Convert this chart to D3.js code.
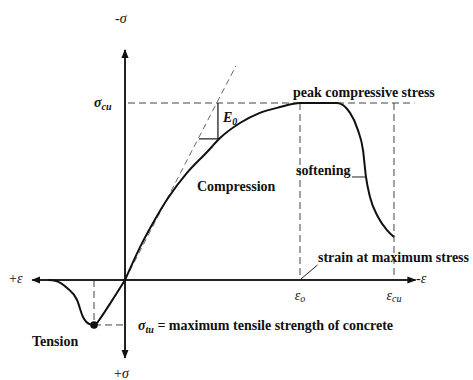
<!DOCTYPE html>
<html>
<head>
<meta charset="utf-8">
<script src="https://cdn.jsdelivr.net/npm/d3@7"></script>
<style>
  body { margin: 0; background: #fff; }
</style>
</head>
<body>
<div id="chart"></div>
<script>
// normalised strain (eps / eps0) and stress (sigma / sigma_cu)
var compStrain = [0, 0.086, 0.16, 0.246, 0.354, 0.469, 0.543, 0.657, 0.771, 0.886, 1, 1.211, 1.286, 1.331, 1.36, 1.377, 1.4, 1.446, 1.497, 1.537];
var compStress = [0, 0.186, 0.322, 0.463, 0.605, 0.723, 0.802, 0.887, 0.944, 0.977, 1, 1, 0.944, 0.847, 0.734, 0.582, 0.469, 0.356, 0.282, 0.243];

var tensStrain = [-0.44, -0.4, -0.331, -0.274, -0.24, -0.2, -0.177, -0.165, -0.14, -0.08, 0];
var tensStress = [0, -0.004, -0.045, -0.113, -0.209, -0.25, -0.254, -0.248, -0.215, -0.125, 0];

var peakTension = [-0.177, -0.254];   // sigma_tu
var strainMarks = [1, 1.537];         // eps_o, eps_cu
var tangentEnd = [0.634, 1.21];       // initial modulus line
var slopeTri = [0.423, 0.531, 0.797]; // E0 triangle: x0, x1, lower y
var xExtent = [-0.53, 1.66];
var yExtent = [-0.44, 1.3];

var svgWidth = 473, svgHeight = 380;

var svg = d3.select("#chart")
  .append("svg")
  .attr("width", svgWidth)
  .attr("height", svgHeight)
  .attr("font-family", "'Liberation Serif', 'DejaVu Serif', Times, serif")
  .attr("font-weight", "bold")
  .attr("fill", "#111");

var x = d3.scaleLinear().domain([0, 1]).range([125, 300]);
var y = d3.scaleLinear().domain([0, 1]).range([280, 103]);

// arrow marker
var defs = svg.append("defs");
defs.append("marker")
  .attr("id", "arrow")
  .attr("viewBox", "0 0 10 10")
  .attr("refX", 9)
  .attr("refY", 5)
  .attr("markerWidth", 4.5)
  .attr("markerHeight", 4.5)
  .attr("orient", "auto")
  .append("path")
  .attr("d", "M0,1 L10,5 L0,9 Z")
  .attr("fill", "#111");

var dash = "7,4";

// dashed guides
var guides = svg.append("g")
  .attr("stroke", "#444")
  .attr("stroke-width", 1)
  .attr("stroke-dasharray", dash)
  .attr("fill", "none");

guides.append("line")
  .attr("x1", x(0) + 3).attr("x2", x(xExtent[1]) - 1)
  .attr("y1", y(1)).attr("y2", y(1));

strainMarks.forEach(function(s) {
  guides.append("line")
    .attr("x1", x(s)).attr("x2", x(s))
    .attr("y1", y(1)).attr("y2", y(0));
});

guides.append("line")
  .attr("x1", x(peakTension[0])).attr("x2", x(peakTension[0]))
  .attr("y1", y(0)).attr("y2", y(peakTension[1]));
guides.append("line")
  .attr("x1", x(peakTension[0])).attr("x2", x(0))
  .attr("y1", y(peakTension[1])).attr("y2", y(peakTension[1]));

// tangent line (initial modulus)
svg.append("line")
  .attr("x1", x(0)).attr("y1", y(0))
  .attr("x2", x(tangentEnd[0])).attr("y2", y(tangentEnd[1]))
  .attr("stroke", "#555")
  .attr("stroke-width", 0.9)
  .attr("stroke-dasharray", "6,4");

// E0 triangle
svg.append("path")
  .attr("d", "M" + x(slopeTri[0]) + "," + y(slopeTri[2]) +
             "L" + x(slopeTri[1]) + "," + y(slopeTri[2]) +
             "L" + x(slopeTri[1]) + "," + y(1))
  .attr("fill", "none")
  .attr("stroke", "#222")
  .attr("stroke-width", 1.3);

// axes
function axisLine(x1, y1, x2, y2) {
  svg.append("line")
    .attr("x1", x1).attr("y1", y1)
    .attr("x2", x2).attr("y2", y2)
    .attr("stroke", "#222").attr("stroke-width", 2)
    .attr("marker-end", "url(#arrow)");
}
axisLine(x(0), y(0), x(0), y(yExtent[1]));
axisLine(x(0), y(0), x(0), y(yExtent[0]));
axisLine(x(0), y(0), x(xExtent[1]), y(0));
axisLine(x(0), y(0), x(xExtent[0]), y(0));

// curves
var line = d3.line()
  .x(function(d) { return x(d[0]); })
  .y(function(d) { return y(d[1]); })
  .curve(d3.curveMonotoneX);

svg.append("path")
  .datum(d3.zip(compStrain, compStress))
  .attr("d", line)
  .attr("fill", "none")
  .attr("stroke", "#111")
  .attr("stroke-width", 2);

svg.append("path")
  .datum(d3.zip(tensStrain, tensStress))
  .attr("d", line)
  .attr("fill", "none")
  .attr("stroke", "#111")
  .attr("stroke-width", 2);

svg.append("circle")
  .attr("cx", x(peakTension[0]))
  .attr("cy", y(peakTension[1]))
  .attr("r", 3.8)
  .attr("fill", "#111");

// leader lines
svg.append("line")
  .attr("x1", 352).attr("x2", x(1.377))
  .attr("y1", y(0.582)).attr("y2", y(0.582))
  .attr("stroke", "#222").attr("stroke-width", 1);
svg.append("line")
  .attr("x1", x(1) + 1).attr("y1", y(0) - 1)
  .attr("x2", x(1.1)).attr("y2", y(0.085))
  .attr("stroke", "#222").attr("stroke-width", 1);

// labels
function label(tx, ty, size) {
  return svg.append("text")
    .attr("x", tx).attr("y", ty)
    .attr("font-size", size || 14);
}

label(197, 191).text("Compression");
label(293, 97).text("peak compressive stress");
label(296, 175).text("softening");
label(318, 262).text("strain at maximum stress");
label(32, 346).text("Tension");

var tu = label(138, 330);
tu.append("tspan").attr("font-style", "italic").text("σ");
tu.append("tspan").attr("font-style", "italic").attr("font-size", 10).attr("dy", 3).text("tu");
tu.append("tspan").attr("dy", -3).text(" = maximum tensile strength of concrete");

var cu = label(94, 107);
cu.append("tspan").attr("font-style", "italic").text("σ");
cu.append("tspan").attr("font-style", "italic").attr("font-size", 10).attr("dy", 3).text("cu");

var e0 = label(223, 122);
e0.append("tspan").attr("font-style", "italic").text("E");
e0.append("tspan").attr("font-style", "italic").attr("font-size", 10).attr("dy", 3).text("0");

var strainNames = ["o", "cu"];
strainMarks.forEach(function(s, i) {
  var t = svg.append("text")
    .attr("x", x(s)).attr("y", 300)
    .attr("text-anchor", "middle")
    .attr("font-size", 14)
    .attr("font-weight", "normal")
    .attr("font-style", "italic");
  t.append("tspan").text("ε");
  t.append("tspan").attr("font-size", 10).attr("dy", 2).text(strainNames[i]);
});

function axisLabel(tx, ty, sign, sym) {
  var t = svg.append("text")
    .attr("x", tx).attr("y", ty)
    .attr("font-size", 14)
    .attr("font-weight", "normal");
  t.append("tspan").text(sign);
  t.append("tspan").attr("font-style", "italic").text(sym);
}
axisLabel(115, 23, "-", "σ");
axisLabel(114, 378, "+", "σ");
axisLabel(9, 283, "+", "ε");
axisLabel(416, 283, "-", "ε");
</script>
</body>
</html>
